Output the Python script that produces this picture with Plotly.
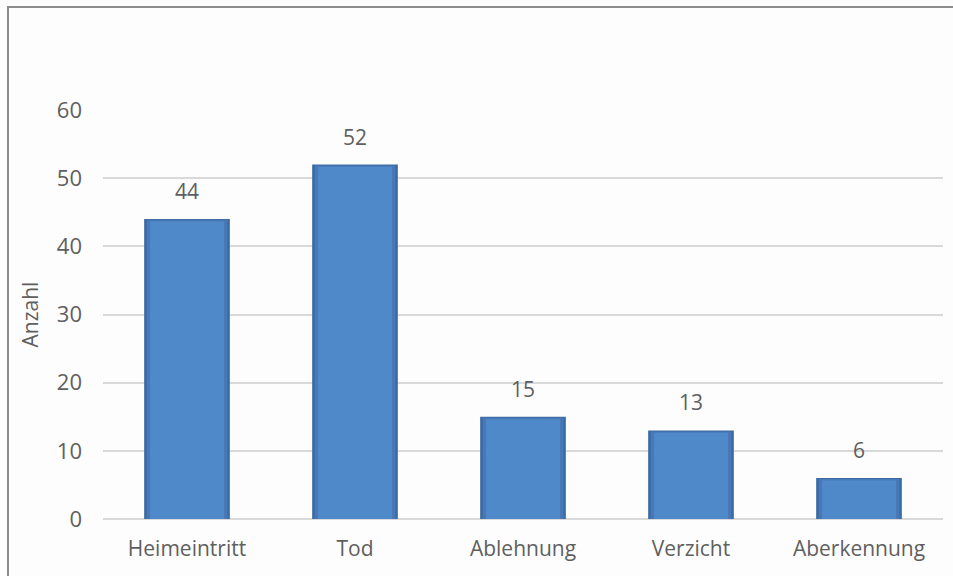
import plotly.graph_objects as go

categories = ["Heimeintritt", "Tod", "Ablehnung", "Verzicht", "Aberkennung"]
values = [44, 52, 15, 13, 6]
y_ticks = [0, 10, 20, 30, 40, 50, 60]
y_title = "Anzahl"

font_family = "Open Sans, Liberation Sans, sans-serif"
grey_text = "#5F5F5F"

# layered bar faces to imitate the bevelled gradient look
layers = [
    (0.51, 0.0, "#3C6BA3"),
    (0.48, 0.15, "#4679B6"),
    (0.44, 0.35, "#5089CA"),
]

fig = go.Figure()
for w, inset, col in layers:
    fig.add_trace(go.Bar(
        x=categories, y=[v - inset for v in values], width=w,
        marker=dict(color=col, line=dict(width=0)),
        hoverinfo="skip", showlegend=False,
    ))

annotations = [
    dict(x=c, y=v, xref="x", yref="y", text=str(v), showarrow=False,
         yanchor="bottom", yshift=12,
         font=dict(size=21, color=grey_text, family=font_family))
    for c, v in zip(categories, values)
]

fig.update_layout(
    width=953, height=576,
    margin=dict(l=103, r=10, t=110, b=57),
    barmode="overlay",
    paper_bgcolor="#FDFDFD", plot_bgcolor="#FDFDFD",
    font=dict(family=font_family, color=grey_text, size=21),
    annotations=annotations,
    xaxis=dict(
        showgrid=False, showline=False, zeroline=False,
        tickfont=dict(size=21, color=grey_text),
        ticklabelstandoff=15,
    ),
    yaxis=dict(
        range=[0, 60], tickvals=y_ticks,
        showgrid=True, gridcolor="#D9D9D9", gridwidth=1.5,
        zeroline=True, zerolinecolor="#D9D9D9", zerolinewidth=1.5,
        showline=False,
        tickfont=dict(size=22, color=grey_text),
        ticklabelstandoff=20,
        title=dict(text=y_title, font=dict(size=21, color=grey_text), standoff=12),
    ),
    shapes=[dict(
        type="rect", xref="paper", yref="paper",
        x0=-0.1131, x1=1.3, y0=-0.3, y1=1.2518,
        line=dict(color="#8C8C8C", width=2), fillcolor="rgba(0,0,0,0)",
        layer="above",
    )],
)

fig.write_html("out.html")
